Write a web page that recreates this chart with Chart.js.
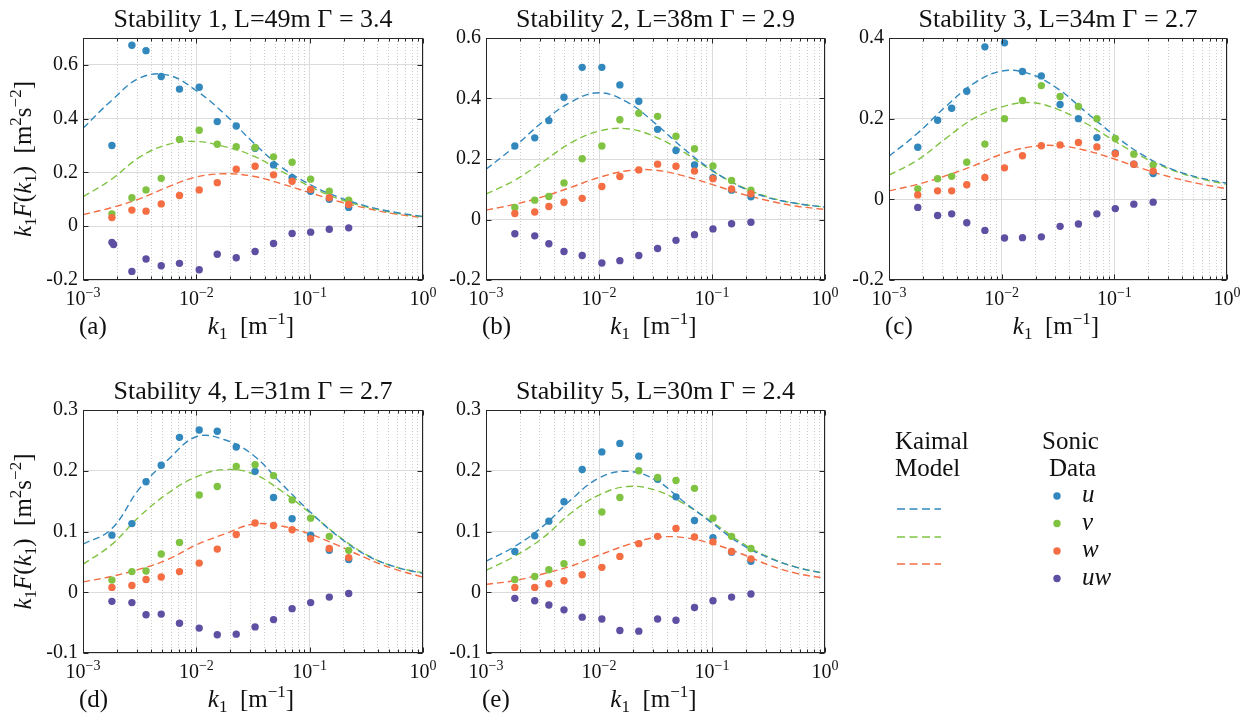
<!DOCTYPE html>
<html>
<head>
<meta charset="utf-8">
<script src="https://cdn.jsdelivr.net/npm/chart.js@4.4.1/dist/chart.umd.min.js"></script>
<style>
  body { margin: 0; background: #fff; }
  #wrap { position: relative; width: 1252px; height: 720px; }
  #wrap canvas { position: absolute; left: 0; top: 0; }
</style>
</head>
<body>
<div id="wrap">
  <canvas id="pa" width="1252" height="720"></canvas>
  <canvas id="pb" width="1252" height="720"></canvas>
  <canvas id="pc" width="1252" height="720"></canvas>
  <canvas id="pd" width="1252" height="720"></canvas>
  <canvas id="pe" width="1252" height="720"></canvas>
</div>
<script>
// wavenumbers of the sonic data bins and of the model curve samples
var k = [0.0018, 0.0027, 0.0036, 0.0049, 0.0071, 0.0106, 0.0153, 0.0225, 0.033, 0.048, 0.070, 0.102, 0.149, 0.221];
var kModel = [0.001, 0.00178, 0.00316, 0.00562, 0.01, 0.0178, 0.0316, 0.0562, 0.1, 0.178, 0.316, 0.562, 1];
// panel (a) has a doubled first uw point
var kUwA = [0.0018, 0.00186, 0.0027, 0.0036, 0.0049, 0.0071, 0.0106, 0.0153, 0.0225, 0.033, 0.048, 0.070, 0.102, 0.149, 0.221];

var seriesNames = ['u', 'v', 'w', 'uw'];
var colors = ['#3288bd', '#80c342', '#f46d43', '#5e4fa2'];

var titles = [
  'Stability 1, L=49m \u0393 = 3.4',
  'Stability 2, L=38m \u0393 = 2.9',
  'Stability 3, L=34m \u0393 = 2.7',
  'Stability 4, L=31m \u0393 = 2.7',
  'Stability 5, L=30m \u0393 = 2.4'
];
var tags = ['(a)', '(b)', '(c)', '(d)', '(e)'];

var ticksA = [-0.2, 0, 0.2, 0.4, 0.6];
var ticksB = [-0.2, 0, 0.2, 0.4, 0.6];
var ticksC = [-0.2, 0, 0.2, 0.4];
var ticksD = [-0.1, 0, 0.1, 0.2, 0.3];
var ticksE = [-0.1, 0, 0.1, 0.2, 0.3];

// Stability 1
var uA = [0.30, 0.673, 0.653, 0.557, 0.51, 0.517, 0.389, 0.373, 0.29, 0.228, 0.18, 0.13, 0.10, 0.07];
var vA = [0.046, 0.106, 0.135, 0.178, 0.323, 0.357, 0.305, 0.296, 0.293, 0.258, 0.238, 0.175, 0.13, 0.097];
var wA = [0.032, 0.06, 0.056, 0.083, 0.114, 0.135, 0.162, 0.212, 0.223, 0.191, 0.167, 0.137, 0.106, 0.081];
var uwA = [-0.06, -0.068, -0.168, -0.122, -0.147, -0.138, -0.162, -0.104, -0.117, -0.094, -0.064, -0.027, -0.022, -0.011, -0.006];
var kaiA_u = [0.364, 0.467, 0.551, 0.562, 0.504, 0.417, 0.312, 0.22, 0.156, 0.109, 0.075, 0.052, 0.036];
var kaiA_v = [0.109, 0.174, 0.257, 0.304, 0.315, 0.296, 0.262, 0.205, 0.148, 0.103, 0.072, 0.05, 0.035];
var kaiA_w = [0.043, 0.069, 0.102, 0.146, 0.183, 0.195, 0.186, 0.158, 0.125, 0.093, 0.067, 0.046, 0.032];

// Stability 2
var uB = [0.243, 0.27, 0.327, 0.404, 0.503, 0.503, 0.445, 0.391, 0.298, 0.228, 0.18, 0.138, 0.097, 0.075];
var vB = [0.04, 0.064, 0.076, 0.121, 0.201, 0.243, 0.33, 0.351, 0.341, 0.275, 0.234, 0.177, 0.129, 0.097];
var wB = [0.02, 0.025, 0.043, 0.057, 0.07, 0.109, 0.142, 0.164, 0.183, 0.176, 0.16, 0.135, 0.101, 0.085];
var uwB = [-0.047, -0.054, -0.08, -0.106, -0.119, -0.144, -0.136, -0.119, -0.096, -0.069, -0.05, -0.031, -0.014, -0.009];
var kaiB_u = [0.166, 0.24, 0.322, 0.388, 0.419, 0.388, 0.317, 0.234, 0.163, 0.108, 0.072, 0.053, 0.041];
var kaiB_v = [0.084, 0.129, 0.19, 0.253, 0.292, 0.3, 0.273, 0.223, 0.161, 0.11, 0.074, 0.053, 0.041];
var kaiB_w = [0.031, 0.05, 0.075, 0.106, 0.139, 0.161, 0.163, 0.144, 0.116, 0.086, 0.062, 0.044, 0.033];

// Stability 3
var uC = [0.129, 0.196, 0.226, 0.268, 0.378, 0.388, 0.317, 0.306, 0.235, 0.2, 0.153, 0.115, 0.087, 0.064];
var vC = [0.026, 0.051, 0.057, 0.092, 0.137, 0.2, 0.245, 0.282, 0.255, 0.23, 0.2, 0.151, 0.112, 0.085];
var wC = [0.011, 0.021, 0.021, 0.036, 0.054, 0.078, 0.108, 0.133, 0.135, 0.141, 0.13, 0.113, 0.087, 0.07];
var uwC = [-0.02, -0.04, -0.036, -0.058, -0.077, -0.096, -0.095, -0.093, -0.067, -0.061, -0.036, -0.023, -0.012, -0.007];
var kaiC_u = [0.107, 0.163, 0.229, 0.287, 0.318, 0.311, 0.274, 0.216, 0.159, 0.11, 0.076, 0.054, 0.04];
var kaiC_v = [0.06, 0.097, 0.15, 0.2, 0.229, 0.24, 0.223, 0.188, 0.145, 0.105, 0.074, 0.052, 0.037];
var kaiC_w = [0.021, 0.037, 0.058, 0.083, 0.112, 0.13, 0.133, 0.121, 0.1, 0.076, 0.055, 0.039, 0.026];

// Stability 4
var uD = [0.094, 0.113, 0.182, 0.209, 0.255, 0.267, 0.265, 0.239, 0.199, 0.156, 0.121, 0.094, 0.069, 0.054];
var vD = [0.02, 0.034, 0.035, 0.063, 0.082, 0.16, 0.174, 0.207, 0.21, 0.192, 0.152, 0.122, 0.092, 0.069];
var wD = [0.008, 0.011, 0.021, 0.025, 0.034, 0.048, 0.071, 0.095, 0.114, 0.11, 0.103, 0.088, 0.072, 0.057];
var uwD = [-0.015, -0.017, -0.037, -0.036, -0.051, -0.059, -0.07, -0.069, -0.057, -0.045, -0.027, -0.017, -0.008, -0.002];
var kaiD_u = [0.079, 0.104, 0.171, 0.218, 0.256, 0.251, 0.226, 0.179, 0.133, 0.092, 0.061, 0.042, 0.031];
var kaiD_v = [0.046, 0.078, 0.125, 0.163, 0.19, 0.202, 0.195, 0.167, 0.131, 0.093, 0.062, 0.042, 0.032];
var kaiD_w = [0.017, 0.026, 0.038, 0.054, 0.078, 0.096, 0.112, 0.109, 0.096, 0.077, 0.056, 0.038, 0.025];

// Stability 5
var uE = [0.067, 0.093, 0.117, 0.149, 0.202, 0.231, 0.245, 0.224, 0.186, 0.157, 0.118, 0.09, 0.066, 0.051];
var vE = [0.021, 0.026, 0.037, 0.047, 0.082, 0.132, 0.156, 0.2, 0.189, 0.184, 0.171, 0.122, 0.092, 0.072];
var wE = [0.008, 0.008, 0.014, 0.019, 0.029, 0.041, 0.059, 0.08, 0.092, 0.105, 0.091, 0.083, 0.067, 0.055];
var uwE = [-0.01, -0.014, -0.021, -0.029, -0.041, -0.044, -0.063, -0.064, -0.044, -0.046, -0.025, -0.014, -0.008, -0.003];
var kaiE_u = [0.051, 0.075, 0.108, 0.152, 0.188, 0.199, 0.185, 0.149, 0.114, 0.08, 0.057, 0.041, 0.031];
var kaiE_v = [0.036, 0.059, 0.089, 0.13, 0.16, 0.174, 0.168, 0.146, 0.116, 0.083, 0.058, 0.041, 0.031];
var kaiE_w = [0.013, 0.019, 0.03, 0.043, 0.061, 0.078, 0.09, 0.09, 0.08, 0.064, 0.045, 0.031, 0.023];

var FONT = '"Liberation Serif", serif';
var INK = '#111';
var YAXIS_W = 60;

// minor/major log ticks for the k1 axis
var xTickVals = [];
[-3, -2, -1].forEach(function(d) {
  for (var m = 1; m <= 9; m++) xTickVals.push(m * Math.pow(10, d));
});
xTickVals.push(1);

function isMajor(v) {
  var l = Math.log10(v);
  return Math.abs(l - Math.round(l)) < 1e-9;
}

function pt(xs, ys) {
  return xs.map(function(x, i) { return {x: x, y: ys[i]}; });
}

function P(t, sz, it, dy) { return {t: t, sz: sz, it: !!it, dy: dy || 0}; }

function drawRich(c, parts, x, y, align) {
  var total = 0;
  parts.forEach(function(p) {
    c.font = (p.it ? 'italic ' : '') + p.sz + 'px ' + FONT;
    p.w = c.measureText(p.t).width;
    total += p.w;
  });
  var cx = align === 'center' ? x - total / 2 : (align === 'right' ? x - total : x);
  c.textAlign = 'left';
  c.textBaseline = 'alphabetic';
  parts.forEach(function(p) {
    c.font = (p.it ? 'italic ' : '') + p.sz + 'px ' + FONT;
    c.fillText(p.t, cx, y + p.dy);
    cx += p.w;
  });
}

function line(c, x1, y1, x2, y2) {
  c.beginPath(); c.moveTo(x1, y1); c.lineTo(x2, y2); c.stroke();
}

function framePlugin(opt) {
  return {
    id: 'frame',
    afterDraw: function(chart) {
      var c = chart.ctx, a = chart.chartArea, xs = chart.scales.x, ys = chart.scales.y;
      var L = Math.round(a.left) + 0.5, R = Math.round(a.right) - 0.5;
      var T = Math.round(a.top) + 0.5, B = Math.round(a.bottom) - 0.5;
      c.save();
      c.strokeStyle = '#262626';
      c.lineWidth = 1;
      c.setLineDash([]);
      c.strokeRect(L, T, R - L, B - T);
      xs.ticks.forEach(function(t) {
        var px = Math.round(xs.getPixelForValue(t.value)) + 0.5;
        var len = isMajor(t.value) ? 5 : 3;
        line(c, px, B, px, B - len);
        line(c, px, T, px, T + len);
      });
      ys.ticks.forEach(function(t) {
        var py = Math.round(ys.getPixelForValue(t.value)) + 0.5;
        line(c, L, py, L + 5, py);
        line(c, R, py, R - 5, py);
      });
      c.fillStyle = INK;
      // decade labels with superscripts
      xs.ticks.forEach(function(t) {
        if (!isMajor(t.value)) return;
        var e = Math.round(Math.log10(t.value));
        var px = xs.getPixelForValue(t.value);
        var ex = e < 0 ? '\u2212' + (-e) : String(e);
        drawRich(c, [P('10', 20), P(ex, 14, false, -8)], px, a.bottom + 25, 'center');
      });
      // title
      c.font = '26px ' + FONT;
      c.textAlign = 'center';
      c.textBaseline = 'alphabetic';
      c.fillText(opt.title, (a.left + a.right) / 2, a.top - 11);
      // x label and panel tag
      drawRich(c, [P('k', 25, true), P('1', 17, false, 5), P('  [m', 25), P('\u22121', 17, false, -10), P(']', 25)],
        (a.left + a.right) / 2 - 2, a.bottom + 54, 'center');
      drawRich(c, [P(opt.tag, 25)], a.left - 4, a.bottom + 54, 'left');
      if (opt.yLabel) {
        c.save();
        c.translate(a.left - 52, (a.top + a.bottom) / 2);
        c.rotate(-Math.PI / 2);
        drawRich(c, [P('k', 25, true), P('1', 17, false, 5), P('F', 25, true), P('(', 25), P('k', 25, true),
          P('1', 17, false, 5), P(')', 25), P('  [m', 25), P('2', 17, false, -10), P('s', 25),
          P('\u22122', 17, false, -10), P(']', 25)], 0, 0, 'center');
        c.restore();
      }
      if (opt.legend) drawLegend(c);
      c.restore();
    }
  };
}

function drawLegend(c) {
  c.fillStyle = INK;
  c.font = '25px ' + FONT;
  c.textAlign = 'left';
  c.textBaseline = 'alphabetic';
  c.fillText('Kaimal', 895, 449);
  c.fillText('Model', 895, 476);
  c.fillText('Sonic', 1042, 449);
  c.fillText('Data', 1049, 476);
  c.lineWidth = 1.5;
  c.setLineDash([8, 4.5]);
  [509, 537, 564].forEach(function(y, i) {
    c.strokeStyle = colors[i];
    line(c, 897, y, 941, y);
  });
  c.setLineDash([]);
  [496, 523.5, 551, 578.5].forEach(function(y, i) {
    c.fillStyle = colors[i];
    c.beginPath(); c.arc(1057, y, 3.7, 0, Math.PI * 2); c.fill();
    c.fillStyle = INK;
    c.font = 'italic 25px ' + FONT;
    c.fillText(seriesNames[i], 1082, y + 6);
  });
}

var panels = [
  {id: 'pa', box: [83, 38, 423, 280], y: [-0.2, 0.7], yTicks: ticksA, yLabel: true,
   pts: [uA, vA, wA, uwA], uwK: kUwA, model: [kaiA_u, kaiA_v, kaiA_w]},
  {id: 'pb', box: [486, 38, 825, 280], y: [-0.2, 0.6], yTicks: ticksB,
   pts: [uB, vB, wB, uwB], uwK: k, model: [kaiB_u, kaiB_v, kaiB_w]},
  {id: 'pc', box: [889, 38, 1227, 280], y: [-0.2, 0.4], yTicks: ticksC,
   pts: [uC, vC, wC, uwC], uwK: k, model: [kaiC_u, kaiC_v, kaiC_w]},
  {id: 'pd', box: [83, 410, 423, 653], y: [-0.1, 0.3], yTicks: ticksD, yLabel: true,
   pts: [uD, vD, wD, uwD], uwK: k, model: [kaiD_u, kaiD_v, kaiD_w]},
  {id: 'pe', box: [486, 410, 825, 653], y: [-0.1, 0.3], yTicks: ticksE, legend: true,
   pts: [uE, vE, wE, uwE], uwK: k, model: [kaiE_u, kaiE_v, kaiE_w]}
];

panels.forEach(function(p, n) {
  var datasets = [];
  p.pts.forEach(function(vals, i) {
    datasets.push({
      label: seriesNames[i],
      data: pt(i === 3 ? p.uwK : k, vals),
      showLine: false,
      pointRadius: 3.7,
      pointBorderWidth: 0,
      pointBackgroundColor: colors[i],
      backgroundColor: colors[i],
      order: 4 - i
    });
  });
  p.model.forEach(function(vals, i) {
    datasets.push({
      label: 'Kaimal ' + seriesNames[i],
      data: pt(kModel, vals),
      showLine: true,
      borderColor: colors[i],
      borderWidth: 1.4,
      borderDash: [7, 4],
      pointRadius: 0,
      tension: 0.4,
      fill: false,
      order: 10
    });
  });

  var ctx = document.getElementById(p.id).getContext('2d');
  new Chart(ctx, {
    type: 'scatter',
    data: {datasets: datasets},
    options: {
      responsive: false,
      animation: false,
      devicePixelRatio: 1,
      events: [],
      layout: {padding: {left: p.box[0] - YAXIS_W, top: p.box[1], right: 1252 - p.box[2], bottom: 720 - p.box[3]}},
      plugins: {legend: {display: false}, tooltip: {enabled: false}, title: {display: false}},
      scales: {
        x: {
          type: 'logarithmic',
          min: 0.001, max: 1,
          afterBuildTicks: function(s) { s.ticks = xTickVals.map(function(v) { return {value: v}; }); },
          afterFit: function(s) { s.height = 0; },
          ticks: {display: false, autoSkip: false},
          grid: {
            drawTicks: false,
            lineWidth: 1,
            color: function(c) { return c.tick && isMajor(c.tick.value) ? '#dcdcdc' : '#cdcdcd'; }
          },
          border: {
            display: false,
            dash: function(c) { return c.tick && !isMajor(c.tick.value) ? [1, 2] : []; }
          }
        },
        y: {
          min: p.y[0], max: p.y[1],
          afterBuildTicks: function(s) { s.ticks = p.yTicks.map(function(v) { return {value: v}; }); },
          afterFit: function(s) { s.width = YAXIS_W; },
          ticks: {
            autoSkip: false,
            padding: 5,
            color: INK,
            font: {family: 'Liberation Serif', size: 20},
            callback: function(v) { return v === 0 ? '0' : v.toFixed(1); }
          },
          grid: {drawTicks: false, lineWidth: 1, color: '#dcdcdc'},
          border: {display: false}
        }
      }
    },
    plugins: [framePlugin({title: titles[n], tag: tags[n], yLabel: p.yLabel, legend: p.legend})]
  });
});
</script>
</body>
</html>
